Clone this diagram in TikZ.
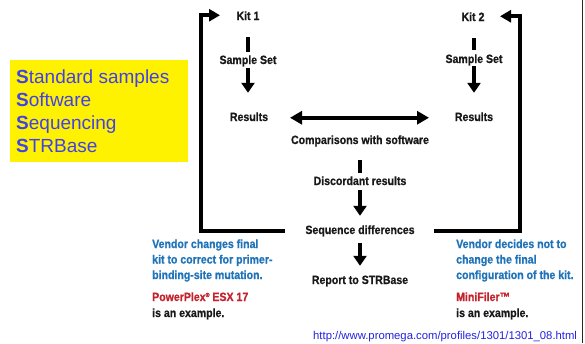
\documentclass[tikz,border=0pt]{standalone}
\usepackage{fontspec}
\setmainfont{Liberation Sans}
\newfontfamily\cond[FakeStretch=0.88,FakeBold=0.7]{Liberation Sans}
\usetikzlibrary{arrows.meta}
\definecolor{txt}{RGB}{25,25,25}
\definecolor{vblue}{RGB}{30,115,185}
\definecolor{vred}{RGB}{195,35,45}
\definecolor{sblue}{RGB}{65,65,235}
\definecolor{ublue}{RGB}{35,35,225}
\begin{document}
\begin{tikzpicture}[x=1pt,y=-1pt,
  lbl/.style={font=\cond\bfseries\fontsize{12}{14}\selectfont, text=txt, inner sep=0pt, text height=9pt, text depth=2.5pt, anchor=base},
  note/.style={font=\cond\bfseries\fontsize{12}{14}\selectfont, inner sep=0pt, anchor=base west},
  stub/.style={line width=4pt, draw=black},
  arr/.style={line width=4pt, draw=black, -{Triangle[width=13pt,length=10pt]}},
  dbl/.style={line width=3.5pt, draw=black, {Triangle[width=13pt,length=12pt]}-{Triangle[width=13pt,length=12pt]}},
  brk/.style={line width=4pt, draw=black, line join=miter, -{Triangle[width=12pt,length=11pt]}},
  sss/.style={font=\fontsize{19}{23}\selectfont, text=sblue, inner sep=0pt, anchor=base west}]
\useasboundingbox (0,0) rectangle (585,343);
\fill[white] (0,0) rectangle (585,343);

% yellow box
\node[fill=yellow, minimum width=178pt, minimum height=102pt, anchor=north west, inner sep=0pt] (ybox) at (10,60) {};
\node[sss] (s1) at (16,83) {{\bfseries S}tandard samples};
\node[sss] (s2) at (16,106) {{\bfseries S}oftware};
\node[sss] (s3) at (16,129) {{\bfseries S}equencing};
\node[sss] (s4) at (16,152) {{\bfseries S}TRBase};

% labels
\node[lbl] (kit1) at (248,20) {Kit 1};
\node[lbl] (ss1) at (248,64) {Sample Set};
\node[lbl] (res1) at (249,121) {Results};
\node[lbl] (kit2) at (473,21) {Kit 2};
\node[lbl] (ss2) at (474,63) {Sample Set};
\node[lbl] (res2) at (474,121) {Results};
\node[lbl] (comp) at (360,144) {Comparisons with software};
\node[lbl] (disc) at (360,185) {Discordant results};
\node[lbl] (seq) at (360,234) {Sequence differences};
\node[lbl] (rep) at (360,284) {Report to STRBase};

% left column
\draw[stub, shorten <=14.5pt, shorten >=3pt] (kit1.south) -- (kit1.south |- ss1.north);
\draw[arr, shorten <=1.5pt, shorten >=19pt] (ss1.south) -- (ss1.south |- res1.north);
% right column
\draw[stub, shorten <=14.5pt, shorten >=4pt] (ss2.north |- kit2.south) -- (ss2.north);
\draw[arr, shorten <=0.5pt, shorten >=19pt] (ss2.south) -- (ss2.south |- res2.north);
% middle
\draw[dbl, shorten <=41pt, shorten >=45pt] (res1.center) -- (res2.center);
\draw[stub, shorten <=13.5pt, shorten >=3pt] (comp.south) -- (disc.north);
\draw[arr, shorten <=2.5pt, shorten >=9pt] (disc.south) -- (seq.north);
\draw[arr, shorten <=6.5pt, shorten >=9pt] (seq.south) -- (rep.north);

% brackets back to the kits
\draw[brk] ([xshift=-75pt]seq.center) -| ([xshift=-47pt,yshift=1.5pt]kit1.center) -- ([xshift=-28pt,yshift=1.5pt]kit1.center);
\draw[brk] ([xshift=74pt]seq.center) -| ([xshift=47pt,yshift=1.5pt]kit2.center) -- ([xshift=27pt,yshift=1.5pt]kit2.center);

% notes
\node[note, text=vblue] (l1) at (152,248) {Vendor changes final};
\node[note, text=vblue] (l2) at (152,263.5) {kit to correct for primer-};
\node[note, text=vblue] (l3) at (152,279) {binding-site mutation.};
\node[note, text=vred] (l4) at (152,301) {PowerPlex\raisebox{4pt}{\fontsize{6}{6}\selectfont ®} ESX 17};
\node[note, text=txt] (l5) at (152,317) {is an example.};

\node[note, text=vblue] (r1) at (456,248) {Vendor decides not to};
\node[note, text=vblue] (r2) at (456,263.5) {change the final};
\node[note, text=vblue] (r3) at (456,279) {configuration of the kit.};
\node[note, text=vred] (r4) at (456,301) {MiniFiler™};
\node[note, text=txt] (r5) at (456,317) {is an example.};

% url
\node[font=\fontsize{11.3}{13}\selectfont, text=ublue, inner sep=0pt, anchor=base west] (url) at (313,339.5) {http://www.promega.com/profiles/1301/1301\_08.html};

% page edge line
\draw[line width=1.6pt, black!85] (582.5,0) -- (582.5,343);
\end{tikzpicture}
\end{document}
